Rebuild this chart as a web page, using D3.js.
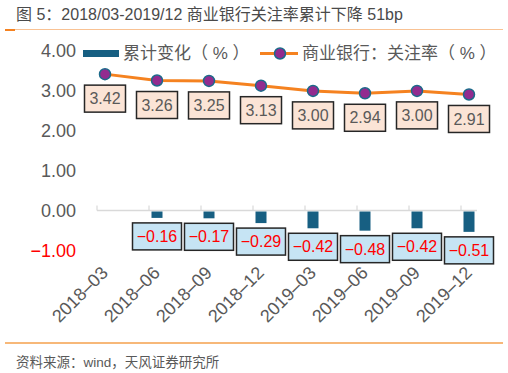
<!DOCTYPE html>
<html>
<head>
<meta charset="utf-8">
<script src="https://cdn.jsdelivr.net/npm/d3@7"></script>
<style>
  body { margin: 0; background: #fff; }
  svg { display: block; font-family: "Liberation Sans", Arial, "Noto Sans CJK SC", sans-serif; }
</style>
</head>
<body>
<svg id="chart" width="508" height="373"></svg>
<script>
// categories (quarters)
const categories = ["2018–03", "2018–06", "2018–09", "2018–12", "2019–03", "2019–06", "2019–09", "2019–12"];
// cumulative change (%), bars
const changeValues = [null, -0.16, -0.17, -0.29, -0.42, -0.48, -0.42, -0.51];
// special-mention ratio of commercial banks (%), line
const ratioValues = [3.42, 3.26, 3.25, 3.13, 3.00, 2.94, 3.00, 2.91];
// y axis ticks
const yTicks = [4, 3, 2, 1, 0, -1];

const titleText = "图 5：2018/03-2019/12 商业银行关注率累计下降 51bp";
const sourceText = "资料来源：wind，天风证券研究所";
const barName = "累计变化（ % ）";
const lineName = "商业银行：关注率（ % ）";

const svg = d3.select("#chart");

//colors
const barColor = "#175f82";
const lineColor = "#f58220";
const markerFill = "#922b8f";
const markerStroke = "#1c6a8a";
const gray = "#595959";

//scales
const x = d3.scaleBand().domain(categories).range([79, 495]);
const cx = d => x(d) + x.bandwidth() / 2;
const y = d3.scaleLinear().domain([-1, 4]).range([250.4, 51]);

//title and top rule
svg.append("text")
  .attr("x", 16).attr("y", 20)
  .attr("font-size", 16).attr("fill", "#4a4a4a")
  .text(titleText);
svg.append("line")
  .attr("x1", 5).attr("x2", 503).attr("y1", 29.5).attr("y2", 29.5)
  .attr("stroke", "#f9c293").attr("stroke-width", 1);
svg.append("rect")
  .attr("x", 5).attr("y", 29).attr("width", 10).attr("height", 2)
  .attr("fill", lineColor);

//y axis labels
svg.append("g").selectAll("text")
  .data(yTicks)
  .join("text")
  .attr("x", 76)
  .attr("y", d => y(d))
  .attr("dy", "0.35em")
  .attr("text-anchor", "end")
  .attr("font-size", 18)
  .attr("fill", d => d < 0 ? "#ff0000" : gray)
  .text(d => (d < 0 ? "−" : "") + Math.abs(d).toFixed(2));

//zero axis line with small ticks
const axisG = svg.append("g");
axisG.append("line")
  .attr("x1", 97).attr("x2", 477)
  .attr("y1", y(0)).attr("y2", y(0))
  .attr("stroke", "#d9d9d9").attr("stroke-width", 1.5);
axisG.selectAll("line.tick")
  .data(categories)
  .join("line")
  .attr("class", "tick")
  .attr("x1", d => cx(d) - 8).attr("x2", d => cx(d) - 8)
  .attr("y1", y(0)).attr("y2", y(0) - 5)
  .attr("stroke", "#d9d9d9").attr("stroke-width", 1.2);

//x labels rotated
svg.append("g").selectAll("text")
  .data(categories)
  .join("text")
  .attr("transform", d => "translate(" + (cx(d) + 4) + ",274) rotate(-45)")
  .attr("text-anchor", "end")
  .attr("font-size", 18)
  .attr("fill", gray)
  .text(d => d);

//bars
const barData = categories.map((c, i) => ({cat: c, value: changeValues[i]})).filter(d => d.value != null);
svg.append("g").selectAll("rect")
  .data(barData)
  .join("rect")
  .attr("x", d => cx(d.cat) - 5.5)
  .attr("width", 11)
  .attr("y", d => y(Math.max(0, d.value)) + 1)
  .attr("height", d => Math.abs(y(d.value) - y(0)))
  .attr("fill", barColor);

//line
const lineData = categories.map((c, i) => ({cat: c, value: ratioValues[i]}));
svg.append("path")
  .datum(lineData)
  .attr("fill", "none")
  .attr("stroke", lineColor)
  .attr("stroke-width", 3)
  .attr("d", d3.line().x(d => cx(d.cat)).y(d => y(d.value)));
svg.append("g").selectAll("circle")
  .data(lineData)
  .join("circle")
  .attr("cx", d => cx(d.cat))
  .attr("cy", d => y(d.value))
  .attr("r", 5.5)
  .attr("fill", markerFill)
  .attr("stroke", markerStroke)
  .attr("stroke-width", 1.5);

//line data labels
const lineLabels = svg.append("g").selectAll("g")
  .data(lineData)
  .join("g")
  .attr("transform", d => "translate(" + cx(d.cat) + "," + (y(d.value) + 24.5) + ")");
lineLabels.append("rect")
  .attr("x", -20.5).attr("y", -13.5).attr("width", 41).attr("height", 27)
  .attr("fill", "#fbe4d6").attr("stroke", "#262626").attr("stroke-width", 1.5);
lineLabels.append("text")
  .attr("text-anchor", "middle").attr("dy", "0.35em")
  .attr("font-size", 16).attr("fill", gray)
  .text(d => d.value.toFixed(2));

//bar data labels
const barLabels = svg.append("g").selectAll("g")
  .data(barData)
  .join("g")
  .attr("transform", d => "translate(" + cx(d.cat) + "," + (y(d.value) + 19.5) + ")");
barLabels.append("rect")
  .attr("x", -24.5).attr("y", -13.5).attr("width", 49).attr("height", 27)
  .attr("fill", "#c6e4f4").attr("stroke", "#262626").attr("stroke-width", 1.5);
barLabels.append("text")
  .attr("text-anchor", "middle").attr("dy", "0.35em")
  .attr("font-size", 16).attr("fill", "#ff0000")
  .text(d => "−" + Math.abs(d.value).toFixed(2));

//legend
const legend = svg.append("g");
legend.append("rect")
  .attr("x", 83).attr("y", 50).attr("width", 36).attr("height", 7)
  .attr("fill", barColor);
legend.append("text")
  .attr("x", 123).attr("y", 53.5).attr("dy", "0.35em")
  .attr("font-size", 17).attr("fill", gray)
  .text(barName);
legend.append("line")
  .attr("x1", 260).attr("x2", 298).attr("y1", 53.5).attr("y2", 53.5)
  .attr("stroke", lineColor).attr("stroke-width", 3);
legend.append("circle")
  .attr("cx", 280).attr("cy", 53.5).attr("r", 5.5)
  .attr("fill", markerFill).attr("stroke", markerStroke).attr("stroke-width", 1.5);
legend.append("text")
  .attr("x", 302).attr("y", 53.5).attr("dy", "0.35em")
  .attr("font-size", 17).attr("fill", gray)
  .text(lineName);

//bottom rule and source
svg.append("line")
  .attr("x1", 5).attr("x2", 503).attr("y1", 343).attr("y2", 343)
  .attr("stroke", "#f5a04c").attr("stroke-width", 1.5);
svg.append("text")
  .attr("x", 16).attr("y", 362).attr("dy", "0.35em")
  .attr("font-size", 13.5).attr("fill", gray)
  .text(sourceText);
</script>
</body>
</html>
